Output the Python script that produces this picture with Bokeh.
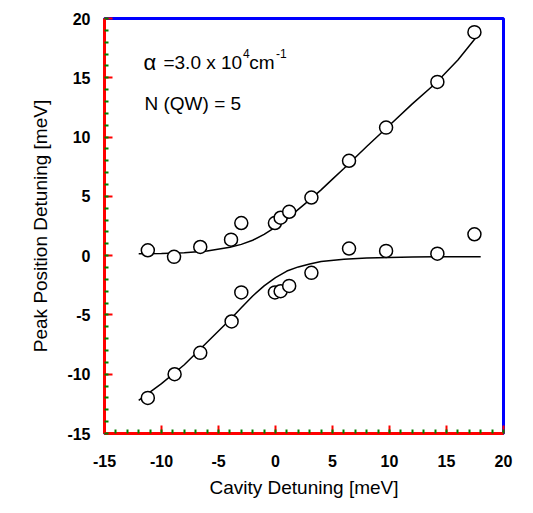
from bokeh.plotting import figure
from bokeh.models import Range1d, SingleIntervalTicker, Label, CustomJSTickFormatter, Title
from bokeh.embed import file_html
from bokeh.resources import INLINE

# Measured data (cavity detuning, peak position detuning) in meV
upper_x = [-11.2, -8.9, -6.6, -3.9, -3.0, -0.05, 0.45, 1.2, 3.15, 6.45, 9.7, 14.2, 17.45]
upper_y = [0.45, -0.1, 0.73, 1.35, 2.75, 2.75, 3.2, 3.7, 4.9, 8.0, 10.8, 14.65, 18.85]
lower_x = [-11.2, -8.85, -6.6, -3.85, -3.0, -0.05, 0.45, 1.2, 3.15, 6.45, 9.7, 14.2, 17.45]
lower_y = [-12.0, -10.0, -8.2, -5.55, -3.1, -3.1, -3.0, -2.55, -1.45, 0.6, 0.4, 0.17, 1.8]

fit_up_x = [-12, -10, -8, -6, -4, -3, -2, -1, 0, 1, 2, 3, 4, 5, 6, 8, 10, 12, 14, 16, 17.5]
fit_up_y = [0.15, 0.18, 0.25, 0.4, 0.7, 0.95, 1.3, 1.8, 2.4, 3.1, 3.9, 4.7, 5.55, 6.45,
            7.35, 9.2, 11.0, 12.8, 14.5, 16.5, 18.3]
fit_lo_x = [-12, -10, -8, -6, -4, -3, -2, -1, 0, 1, 2, 3, 4, 6, 8, 10, 12, 14, 16, 18]
fit_lo_y = [-12.2, -10.8, -9.2, -7.3, -5.4, -4.4, -3.4, -2.55, -1.85, -1.3, -0.95, -0.7,
            -0.5, -0.3, -0.2, -0.15, -0.12, -0.1, -0.1, -0.1]

x_title = "Cavity Detuning [meV]"
y_title = "Peak Position Detuning [meV]"
FONT = "Liberation Sans"

p = figure(frame_width=399, frame_height=415, output_backend="svg", toolbar_location=None,
           x_range=Range1d(-15, 20), y_range=Range1d(-15, 20),
           min_border_left=104, min_border_right=30, min_border_top=18, min_border_bottom=80)
p.xgrid.grid_line_color = None
p.ygrid.grid_line_color = None
p.outline_line_color = "blue"
p.outline_line_width = 3

for a in (p.xaxis, p.yaxis):
    a.ticker = SingleIntervalTicker(interval=5, num_minor_ticks=5)
    a.formatter = CustomJSTickFormatter(code="return tick.toFixed(0);")
    a.axis_line_width = 3
    a.axis_line_color = "red"
    a.major_tick_in = 8
    a.major_tick_out = 0
    a.minor_tick_in = 4
    a.minor_tick_out = 0
    a.major_tick_line_width = 2
    a.major_tick_line_color = "red"
    a.minor_tick_line_width = 2
    a.minor_tick_line_color = "green"
    a.major_label_text_font = FONT
    a.major_label_text_font_style = "bold"
    a.major_label_text_font_size = "16px"
    a.major_label_text_color = "black"
p.xaxis.major_label_standoff = 21
p.yaxis.major_label_standoff = 14

p.add_layout(Title(text=x_title, align="center", text_font=FONT, text_font_size="19px",
                   text_font_style="normal", text_color="black", standoff=10), "below")
p.add_layout(Title(text=y_title, align="center", text_font=FONT, text_font_size="19px",
                   text_font_style="normal", text_color="black", standoff=28), "left")

p.line(fit_up_x, fit_up_y, line_color="black", line_width=1.5)
p.line(fit_lo_x, fit_lo_y, line_color="black", line_width=1.5)
p.scatter(upper_x, upper_y, size=13, marker="circle", fill_color="white",
          line_color="black", line_width=1.5)
p.scatter(lower_x, lower_y, size=13, marker="circle", fill_color="white",
          line_color="black", line_width=1.5)

def lab(x, y, t, size):
    p.add_layout(Label(x=x, y=y, text=t, text_font=FONT, text_font_size=size,
                       text_color="black", text_baseline="alphabetic", text_align="left"))

lab(-11.58, 16.29, "α", "22px")
lab(-9.83, 16.29, "=3.0 x 10", "19px")
lab(-2.85, 17.05, "4", "12px")
lab(-2.3, 16.29, "cm", "19px")
lab(0.05, 17.05, "-1", "12px")
lab(-11.49, 12.83, "N (QW) = 5", "19px")

open("out.html", "w").write(file_html(p, INLINE))
